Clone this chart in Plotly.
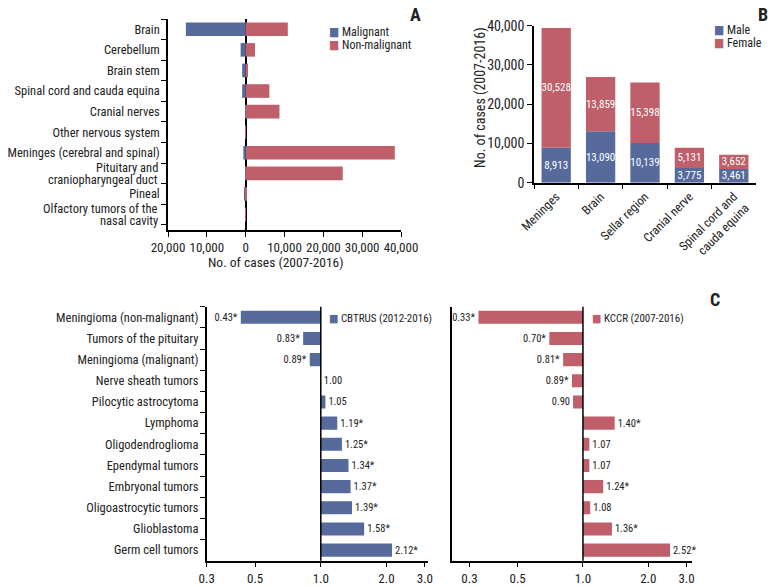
import math
import plotly.graph_objects as go

# ---------------- data ----------------
A_categories = ["Brain", "Cerebellum", "Brain stem", "Spinal cord and cauda equina",
                "Cranial nerves", "Other nervous system", "Meninges (cerebral and spinal)",
                "Pituitary and<br>craniopharyngeal duct", "Pineal",
                "Olfactory tumors of the<br>nasal cavity"]
A_malignant = [15400, 1300, 900, 900, 150, 50, 600, 100, 350, 50]
A_nonmalignant = [10850, 2400, 600, 6100, 8700, 50, 38400, 25000, 300, 20]
A_tickvals = [-20000, -10000, 0, 10000, 20000, 30000, 40000]
A_ticktext = ["20,000", "10,000", "0", "10,000", "20,000", "30,000", "40,000"]

B_categories = ["Meninges", "Brain", "Sellar region", "Cranial nerve",
                "Spinal cord and<br>cauda equina"]
B_male = [8913, 13090, 10139, 3775, 3461]
B_female = [30528, 13859, 15398, 5131, 3652]

C_categories = ["Meningioma (non-malignant)", "Tumors of the pituitary", "Meningioma (malignant)",
                "Nerve sheath tumors", "Pilocytic astrocytoma", "Lymphoma", "Oligodendroglioma",
                "Ependymal tumors", "Embryonal tumors", "Oligoastrocytic tumors",
                "Glioblastoma", "Germ cell tumors"]
C_cbtrus = [0.43, 0.83, 0.89, 1.00, 1.05, 1.19, 1.25, 1.34, 1.37, 1.39, 1.58, 2.12]
C_cbtrus_sig = [True, True, True, False, False, True, True, True, True, True, True, True]
C_kccr = [0.33, 0.70, 0.81, 0.89, 0.90, 1.40, 1.07, 1.07, 1.24, 1.08, 1.36, 2.52]
C_kccr_sig = [True, True, True, True, False, True, False, False, True, False, True, True]
C_tickvals = [0.3, 0.5, 1.0, 2.0, 3.0]
C_ticktext = ["0.3", "0.5", "1.0", "2.0", "3.0"]

# ---------------- style ----------------
W, H = 774, 587
BLUE = "#566B9C"
RED = "#BE5F6A"
FONT = "Liberation Sans Narrow, Roboto Condensed, DejaVu Sans Condensed, Arial Narrow, sans-serif"
TXT = "#222222"
LBL = 12.5   # category label size
NUM = 13     # tick number size


def px(x):
    return x / W


def py(y):
    return 1 - y / H


fig = go.Figure()

# Panel A
fig.add_trace(go.Bar(y=A_categories, x=[-v for v in A_malignant], orientation="h",
                     name="Malignant", marker_color=BLUE, width=0.66,
                     xaxis="x", yaxis="y", showlegend=False))
fig.add_trace(go.Bar(y=A_categories, x=A_nonmalignant, orientation="h",
                     name="Non-malignant", marker_color=RED, width=0.66,
                     xaxis="x", yaxis="y", showlegend=False))

# Panel B
for vals, name, col in [(B_male, "Male", BLUE), (B_female, "Female", RED)]:
    fig.add_trace(go.Bar(x=B_categories, y=vals, name=name, marker_color=col, width=0.66,
                         text=[f"{v:,}" for v in vals], textposition="inside",
                         insidetextanchor="middle", constraintext="none", textangle=0,
                         textfont=dict(color="white", size=11, family=FONT),
                         xaxis="x2", yaxis="y2", showlegend=False))

# Panel C
for vals, sig, name, col, xa, ya in [(C_cbtrus, C_cbtrus_sig, "CBTRUS (2012-2016)", BLUE, "x3", "y3"),
                                     (C_kccr, C_kccr_sig, "KCCR (2007-2016)", RED, "x4", "y4")]:
    fig.add_trace(go.Bar(y=C_categories, x=[v - 1 for v in vals], base=1, orientation="h",
                         name=name, marker_color=col, width=0.62,
                         text=[f"{v:.2f}" + ("*" if s else "") for v, s in zip(vals, sig)],
                         textposition="outside", constraintext="none", cliponaxis=False,
                         textangle=0, textfont=dict(color=TXT, size=10.5, family=FONT),
                         xaxis=xa, yaxis=ya, showlegend=False))

axis_common = dict(showline=True, linecolor="black", linewidth=1.5, showgrid=False,
                   zeroline=False, automargin=False,
                   ticks="outside", ticklen=5, tickcolor="black", tickwidth=1.2,
                   tickfont=dict(size=NUM, family=FONT, color=TXT))

A_ticklabels = ["" if "<br>" in c else c for c in A_categories]

fig.update_layout(
    template="none",
    width=W, height=H, margin=dict(l=0, r=0, t=0, b=0),
    paper_bgcolor="white", plot_bgcolor="white",
    barmode="relative",
    font=dict(family=FONT, color=TXT),
    xaxis=dict(axis_common, domain=[px(168), px(401)], anchor="y",
               range=[-20000, 40000], tickvals=A_tickvals, ticktext=A_ticktext, tickangle=0,
               zeroline=True, zerolinecolor="black", zerolinewidth=1.5, layer="above traces"),
    yaxis=dict(axis_common, domain=[py(230), py(19)], anchor="x", type="category",
               categoryorder="array", categoryarray=A_categories, autorange="reversed",
               tickvals=A_categories, ticktext=A_ticklabels, ticklabelstandoff=4,
               tickson="boundaries", tickfont=dict(size=LBL, family=FONT, color=TXT)),
    xaxis2=dict(axis_common, domain=[px(534), px(756)], anchor="y2", type="category",
                range=[-0.5, 4.5], tickson="boundaries", tickangle=-45,
                tickfont=dict(size=LBL, family=FONT, color=TXT)),
    yaxis2=dict(axis_common, domain=[py(182.7), py(25.7)], anchor="x2",
                range=[0, 40000], tickvals=[0, 10000, 20000, 30000, 40000],
                tickformat=",", tickfont=dict(size=14, family=FONT, color=TXT)),
    xaxis3=dict(axis_common, domain=[px(206.7), px(428)], anchor="y3", type="log",
                range=[math.log10(0.3), math.log10(3.1)], tickangle=0,
                tickvals=C_tickvals, ticktext=C_ticktext),
    yaxis3=dict(axis_common, domain=[py(560.7), py(306.7)], anchor="x3", type="category",
                categoryorder="array", categoryarray=C_categories, autorange="reversed",
                ticklabelstandoff=4,
                tickson="boundaries", tickfont=dict(size=LBL, family=FONT, color=TXT)),
    xaxis4=dict(axis_common, domain=[px(452.3), px(691.7)], anchor="y4", type="log",
                range=[math.log10(0.25), math.log10(3.17)], tickangle=0,
                tickvals=C_tickvals, ticktext=C_ticktext),
    yaxis4=dict(showline=True, linecolor="black", linewidth=1.5, showgrid=False,
                zeroline=False, automargin=False,
                domain=[py(560.7), py(306.7)], anchor="x4", type="category",
                categoryorder="array", categoryarray=C_categories, autorange="reversed",
                showticklabels=False, ticks=""),
)

# reference lines at ratio 1.0
for xa, ya in [("x3", "y3"), ("x4", "y4")]:
    fig.add_shape(type="line", xref=xa, x0=1, x1=1, yref=f"{ya} domain", y0=0, y1=1,
                  line=dict(color="black", width=1.5), layer="above")

# two-line category labels of panel A (tighter line spacing than tick labels)
for c in A_categories:
    if "<br>" in c:
        lines = c.split("<br>")
        for i, line in enumerate(lines):
            fig.add_annotation(text=line, xref="paper", x=px(160), yref="y", y=c,
                               yshift=6 - 12 * i, showarrow=False, xanchor="right",
                               yanchor="middle",
                               font=dict(size=LBL, family=FONT, color=TXT))


def ann(text, x, y, size=12.5, xanchor="left", yanchor="middle", angle=0, bold=False):
    fig.add_annotation(text=f"<b>{text}</b>" if bold else text, x=px(x), y=py(y),
                       xref="paper", yref="paper", showarrow=False, xanchor=xanchor,
                       yanchor=yanchor, textangle=angle,
                       font=dict(size=size, family=FONT, color=TXT))


def sq(color, label):
    return f"<span style='color:{color}'>■</span> {label}"


# axis titles
ann("No. of cases (2007-2016)", 276, 262, size=13.5, xanchor="center")
ann("No. of cases (2007-2016)", 480, 98, size=14, xanchor="center", angle=-90)

# legends
ann(sq(BLUE, "Malignant"), 327, 32, size=12)
ann(sq(RED, "Non-malignant"), 327, 44.5, size=12)
ann(sq(BLUE, "Male"), 712, 30, size=12)
ann(sq(RED, "Female"), 712, 43, size=12)
ann(sq(BLUE, "CBTRUS (2012-2016)"), 327, 318, size=11)
ann(sq(RED, "KCCR (2007-2016)"), 590, 318, size=11)

# panel letters
ann("A", 415, 14, size=18, xanchor="center", bold=True)
ann("B", 763, 14, size=18, xanchor="center", bold=True)
ann("C", 715, 299, size=18, xanchor="center", bold=True)

fig.write_html("out.html", config={"displayModeBar": False},
               post_script="document.body.style.margin='0';")
